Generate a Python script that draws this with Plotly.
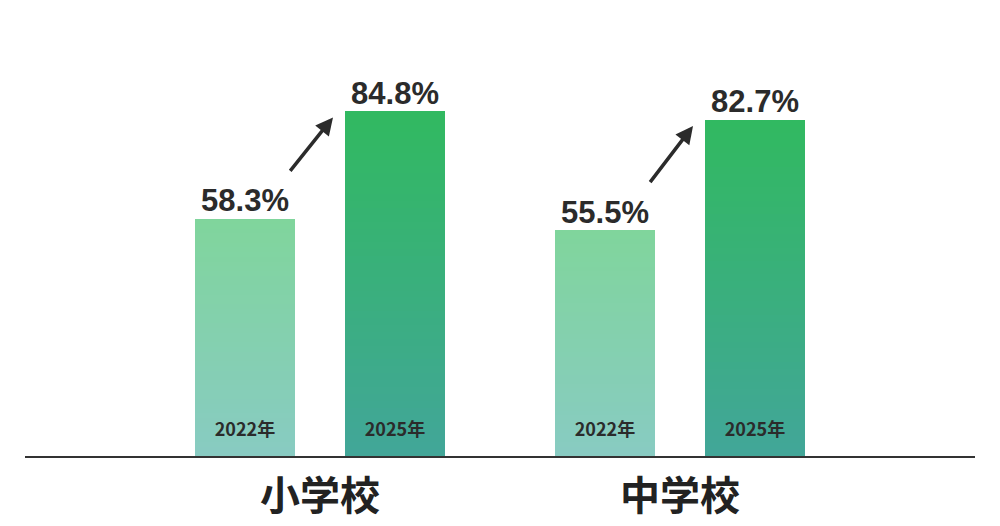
import plotly.graph_objects as go

schools = ["小学校", "中学校"]
years = ["2022年", "2025年"]
values_2022 = [58.3, 55.5]
values_2025 = [84.8, 82.7]

# x positions (plot uses a pixel-like scale 0..950)
group_centers = [295, 655]
offset = 75
xs, vals, yrs, kinds = [], [], [], []
for i in range(len(schools)):
    xs += [group_centers[i] - offset, group_centers[i] + offset]
    vals += [values_2022[i], values_2025[i]]
    yrs += years
    kinds += [0, 1]

# gradient colours (top, bottom) for light/dark bars
light = ((0x80, 0xd5, 0x9c), (0x88, 0xcb, 0xc2))
dark = ((0x31, 0xb9, 0x60), (0x42, 0xa6, 0x99))


def mix(c, t):
    top, bot = c
    return "rgb(%d,%d,%d)" % tuple(round(bot[k] + (top[k] - bot[k]) * t) for k in range(3))


fig = go.Figure()
N = 50
for s in range(N):
    t = (s + 0.5) / N
    fig.add_trace(go.Bar(
        x=xs, y=[v / N for v in vals], width=100,
        marker=dict(color=[mix(light if k == 0 else dark, t) for k in kinds], line_width=0),
        hoverinfo="skip", showlegend=False))

fig.add_trace(go.Scatter(
    x=xs, y=vals, mode="text", text=[f"<b>{v}%</b>" for v in vals],
    textposition="top center", textfont=dict(size=31, color="#2b2b2b", family="Liberation Sans"),
    showlegend=False, hoverinfo="skip"))

fig.add_trace(go.Scatter(
    x=xs, y=[6] * len(xs), mode="text", text=[f"<b>{y}</b>" for y in yrs],
    textfont=dict(size=18, color="#2b2b2b", family="Noto Sans CJK JP"),
    showlegend=False, hoverinfo="skip"))

for i in range(len(schools)):
    x0 = group_centers[i] - offset
    x1 = group_centers[i] + offset
    fig.add_annotation(
        x=x1 - 62, y=values_2025[i] - 1.5, ax=x0 + 44, ay=values_2022[i] + 11.5,
        xref="x", yref="y", axref="x", ayref="y", text="",
        showarrow=True, arrowhead=2, arrowsize=1, arrowwidth=3.5, arrowcolor="#2b2b2b")

fig.update_layout(
    barmode="stack", bargap=0,
    width=1000, height=526, margin=dict(l=17, r=33, t=20, b=72),
    plot_bgcolor="white", paper_bgcolor="white",
    xaxis=dict(range=[0, 950], tickvals=group_centers, ticktext=[f"<b>{s}</b>" for s in schools],
               tickfont=dict(size=40, color="#222", family="Noto Sans CJK JP"),
               showgrid=False, zeroline=False, showline=True, linecolor="#333",
               linewidth=2, ticks="", ticklabelstandoff=4),
    yaxis=dict(range=[0, 105.3], visible=False),
)

fig.write_html("out.html")
